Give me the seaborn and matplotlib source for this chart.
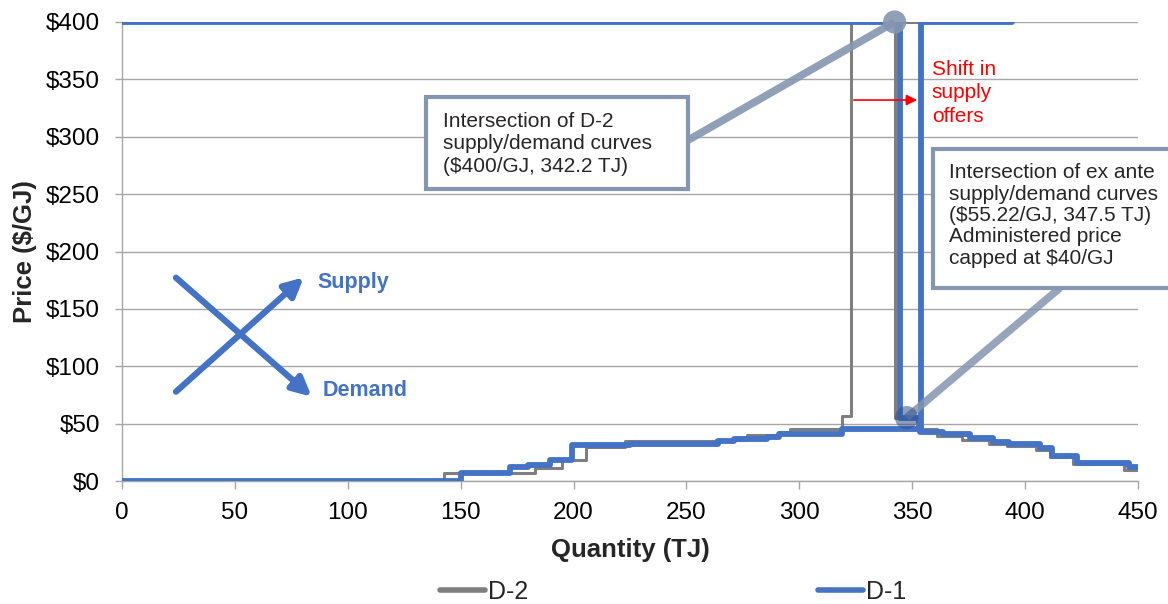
import numpy as np
import pandas as pd
import seaborn as sns
import matplotlib.pyplot as plt
from matplotlib.patches import Rectangle
from matplotlib.lines import Line2D

# ---- data (step curves, steps-post) ----
d2_supply_q = [0, 142.6, 183, 195, 205.6, 223, 263, 276.8, 291, 296, 318.7, 323, 394]
d2_supply_p = [0, 7, 11.5, 18, 30, 35, 36, 40, 43, 45, 57, 400, 400]
d2_demand_q = [0, 342.2, 352, 361, 372, 384, 392, 405, 411, 421, 444, 450]
d2_demand_p = [400, 55, 45, 39.5, 36, 32.5, 30.5, 27, 20.5, 15, 10, 10]

d1_supply_q = [0, 150, 172, 180, 189.5, 199.5, 225, 264, 271, 285.6, 291, 319, 354, 394]
d1_supply_p = [0, 7, 12.5, 14, 18, 31, 32.2, 35, 36.6, 38.6, 40.7, 45, 400, 400]
d1_demand_q = [0, 344.5, 353.4, 363.7, 375.6, 385.8, 393, 406.5, 411.7, 422.8, 446, 450]
d1_demand_p = [400, 55, 43, 40.7, 37.2, 34.3, 32.2, 28.5, 21.8, 16, 12, 12]

x_ticks = [0, 50, 100, 150, 200, 250, 300, 350, 400, 450]
y_ticks = [0, 50, 100, 150, 200, 250, 300, 350, 400]
y_labels = ["$0", "$50", "$100", "$150", "$200", "$250", "$300", "$350", "$400"]

intersect_d2 = (342.2, 400)
intersect_exante = (347.5, 55.22)

def frame(q, p, side):
    return pd.DataFrame({"q": q, "p": p, "side": side})

df_d2 = pd.concat([frame(d2_supply_q, d2_supply_p, "supply"),
                   frame(d2_demand_q, d2_demand_p, "demand")], ignore_index=True)
df_d1 = pd.concat([frame(d1_supply_q, d1_supply_p, "supply"),
                   frame(d1_demand_q, d1_demand_p, "demand")], ignore_index=True)

sns.set_theme(style="white")
plt.rcParams["font.family"] = ["Liberation Sans", "DejaVu Sans"]

GRAY = "#7F7F7F"
BLUE = "#4472C4"
CONN = "#8496B0"

fig = plt.figure(figsize=(11.68, 6.04), dpi=100)
ax = fig.add_axes([122/1168, 1 - 481/604, (1138-122)/1168, (481-22)/604])

sns.lineplot(data=df_d2, x="q", y="p", units="side", estimator=None, sort=False,
             color=GRAY, linewidth=2.2, drawstyle="steps-post", ax=ax, zorder=3)
sns.lineplot(data=df_d1, x="q", y="p", units="side", estimator=None, sort=False,
             color=BLUE, linewidth=4.2, drawstyle="steps-post", ax=ax, zorder=4)

ax.set_xlim(0, 450)
ax.set_ylim(0, 400)
ax.set_xticks(x_ticks)
ax.set_xticklabels([str(t) for t in x_ticks])
ax.set_yticks(y_ticks)
ax.set_yticklabels(y_labels)
ax.yaxis.grid(True, color="#A6A6A6", linewidth=1.0)
ax.set_axisbelow(True)
for s in ["top", "right"]:
    ax.spines[s].set_visible(False)
for s in ["left", "bottom"]:
    ax.spines[s].set_color("#A6A6A6")
    ax.spines[s].set_linewidth(1.0)
ax.tick_params(axis="y", direction="out", length=5, width=1, color="#A6A6A6",
               pad=11, labelsize=17.5, labelcolor="black", left=True)
ax.tick_params(axis="x", direction="out", length=6, width=1, color="#A6A6A6",
               pad=9, labelsize=17.5, labelcolor="black", bottom=True)
ax.set_xlabel("Quantity (TJ)", fontsize=18.5, fontweight="bold", labelpad=10)
ax.set_ylabel("Price ($/GJ)", fontsize=18.5, fontweight="bold", labelpad=6)

# ---- annotation boxes ----
box1 = Rectangle((134.6, 254.5), 250.7 - 134.6, 334.6 - 254.5, facecolor="white",
                 edgecolor=CONN, linewidth=3, zorder=7, clip_on=False)
ax.add_patch(box1)
ax.text(142.2, 322, "Intersection of D-2\nsupply/demand curves\n($400/GJ, 342.2 TJ)",
        fontsize=15, va="top", ha="left", linespacing=1.26, zorder=8)
ax.plot([250.7, intersect_d2[0]], [297, intersect_d2[1]], color=CONN, linewidth=5.5,
        alpha=0.9, zorder=6, solid_capstyle="butt", clip_on=False)
ax.scatter([intersect_d2[0]], [intersect_d2[1]], s=280, color=CONN, alpha=0.9,
           zorder=6, clip_on=False, edgecolors="none")

box2 = Rectangle((359.2, 168.2), 120, 289.3 - 168.2, facecolor="white",
                 edgecolor=CONN, linewidth=3, zorder=7, clip_on=False)
ax.add_patch(box2)
ax.text(366.5, 277, "Intersection of ex ante\nsupply/demand curves\n($55.22/GJ, 347.5 TJ)\n"
        "Administered price\ncapped at $40/GJ",
        fontsize=15, va="top", ha="left", linespacing=1.16, zorder=8)
ax.plot([415.4, intersect_exante[0]], [168.2, intersect_exante[1]], color=CONN,
        linewidth=5.5, alpha=0.85, zorder=6, solid_capstyle="butt")
ax.scatter([intersect_exante[0]], [intersect_exante[1]], s=280, color="#2F4F8A", alpha=0.55,
           zorder=6, edgecolors="none")

# ---- shift arrow ----
ax.annotate("", xy=(353.4, 332), xytext=(322.9, 332),
            arrowprops=dict(arrowstyle="-|>", color="red", lw=1.2, mutation_scale=16),
            zorder=8)
ax.text(358.7, 367, "Shift in\nsupply\noffers", color="red", fontsize=15,
        va="top", ha="left", linespacing=1.3, zorder=8)

# ---- supply/demand symbol ----
ax.annotate("", xy=(80.5, 177.5), xytext=(23.9, 77.8),
            arrowprops=dict(arrowstyle="-|>", color=BLUE, lw=4.5, mutation_scale=28,
                            shrinkA=0, shrinkB=0), zorder=8)
ax.annotate("", xy=(84, 73.5), xytext=(23.9, 177.2),
            arrowprops=dict(arrowstyle="-|>", color=BLUE, lw=4.5, mutation_scale=28,
                            shrinkA=0, shrinkB=0), zorder=8)
ax.text(86.4, 173.4, "Supply", color=BLUE, fontsize=15.5, fontweight="bold",
        va="center", ha="left")
ax.text(89, 79.3, "Demand", color=BLUE, fontsize=15.5, fontweight="bold",
        va="center", ha="left")

# ---- legend ----
handles = [Line2D([0], [0], color=GRAY, linewidth=4), Line2D([0], [0], color=BLUE, linewidth=4)]
fig.legend(handles, ["D-2", "D-1"], loc="center", bbox_to_anchor=(673/1168, 1 - 592/604),
           ncol=2, frameon=False, fontsize=18, handlelength=1.8, handletextpad=0.1,
           columnspacing=11.6, borderaxespad=0)

fig.savefig("out.png", dpi=100)
